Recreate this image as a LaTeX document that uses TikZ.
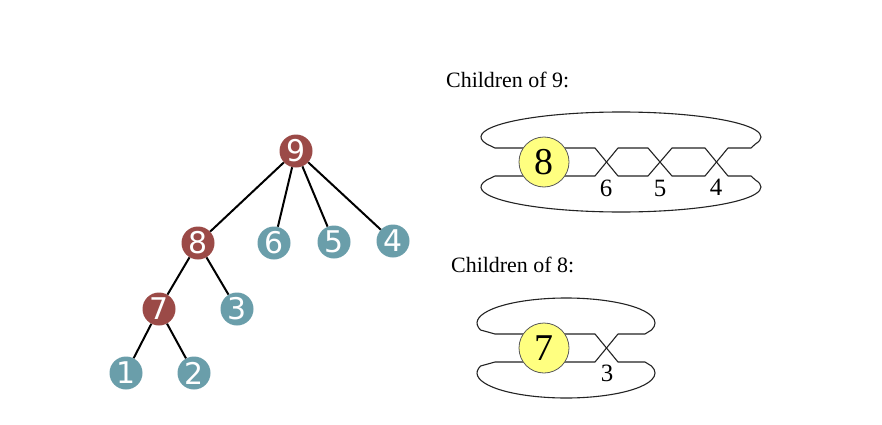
\documentclass[tikz,border=0pt]{standalone}
\usepackage{fontspec}
\setmainfont{Liberation Serif}
\newfontfamily\treefont{DejaVu Sans}
\definecolor{nodered}{RGB}{155,74,71}
\definecolor{nodeteal}{RGB}{106,158,170}
\definecolor{ballyellow}{RGB}{255,255,128}
\definecolor{strandgray}{RGB}{35,35,35}
\begin{document}
\begin{tikzpicture}[x=1bp,y=1bp,
  treenode/.style={circle,minimum size=33bp,inner sep=0pt,text=white,
    font=\treefont\fontsize{30}{30}\selectfont},
  rednode/.style={treenode,fill=nodered},
  tealnode/.style={treenode,fill=nodeteal},
  treeedge/.style={line width=2bp,black},
  strand/.style={line width=1.1bp,strandgray,line join=round},
  ball/.style={circle,minimum size=50bp,inner sep=0pt,fill=ballyellow,draw=gray!70!black,line width=0.8bp,
    font=\fontsize{38}{38}\selectfont},
  lbl/.style={font=\fontsize{25}{25}\selectfont,inner sep=0pt},
  heading/.style={font=\fontsize{22}{22}\selectfont,inner sep=0pt,anchor=base west}]
\useasboundingbox (0,0) rectangle (882,424);
\fill[white] (0,0) rectangle (882,424);

% ---- tree ----
\node[rednode] (n9) at (296,273) {9};
\node[rednode] (n8) at (198,181) {8};
\node[tealnode] (n6) at (274,181) {6};
\node[tealnode] (n5) at (334,182) {5};
\node[tealnode] (n4) at (393,183) {4};
\node[rednode] (n7) at (159,115) {7};
\node[tealnode] (n3) at (237,115) {3};
\node[tealnode] (n1) at (126,51) {1};
\node[tealnode] (n2) at (194,51) {2};
\draw[treeedge] (n9) -- (n8);
\draw[treeedge] (n9) -- (n6);
\draw[treeedge] (n9) -- (n5);
\draw[treeedge] (n9) -- (n4);
\draw[treeedge] (n8) -- (n7);
\draw[treeedge] (n8) -- (n3);
\draw[treeedge] (n7) -- (n1);
\draw[treeedge] (n7) -- (n2);

% ---- headings ----
\node[heading] (h9) at (446,337) {Children of 9:};
\node[heading] (h8) at (451,152) {Children of 8:};

% ---- children of 9 ----
\draw[strand] (544,276) -- (495,276) -- (486.6,280)
  arc[start angle=196.26,end angle=-16.26,x radius=140,y radius=25]
  -- (751,276) -- (728,276) -- (705,248) -- (672,248) -- (648,276) -- (618,276) -- (595,248) -- (544,248);
\draw[strand] (544,248) -- (495,248) -- (486.6,244)
  arc[start angle=163.74,end angle=376.26,x radius=140,y radius=25]
  -- (751,248) -- (728,248) -- (705,276) -- (672,276) -- (648,248) -- (618,248) -- (595,276) -- (544,276);
\node[ball] (b8) at (544,262) {8};
\node[lbl] (l6) at (606,236) {6};
\node[lbl] (l5) at (660,236) {5};
\node[lbl] (l4) at (716,237) {4};

% ---- children of 8 ----
\draw[strand] (544,90) -- (495,90) -- (480.6,94)
  arc[start angle=196.26,end angle=-16.26,x radius=89,y radius=25]
  -- (645,90) -- (618,90) -- (595,62) -- (544,62);
\draw[strand] (544,62) -- (495,62) -- (480.6,58)
  arc[start angle=163.74,end angle=376.26,x radius=89,y radius=25]
  -- (645,62) -- (618,62) -- (595,90) -- (544,90);
\node[ball] (b7) at (544,76) {7};
\node[lbl] (l3) at (607,51) {3};
\end{tikzpicture}
\end{document}
